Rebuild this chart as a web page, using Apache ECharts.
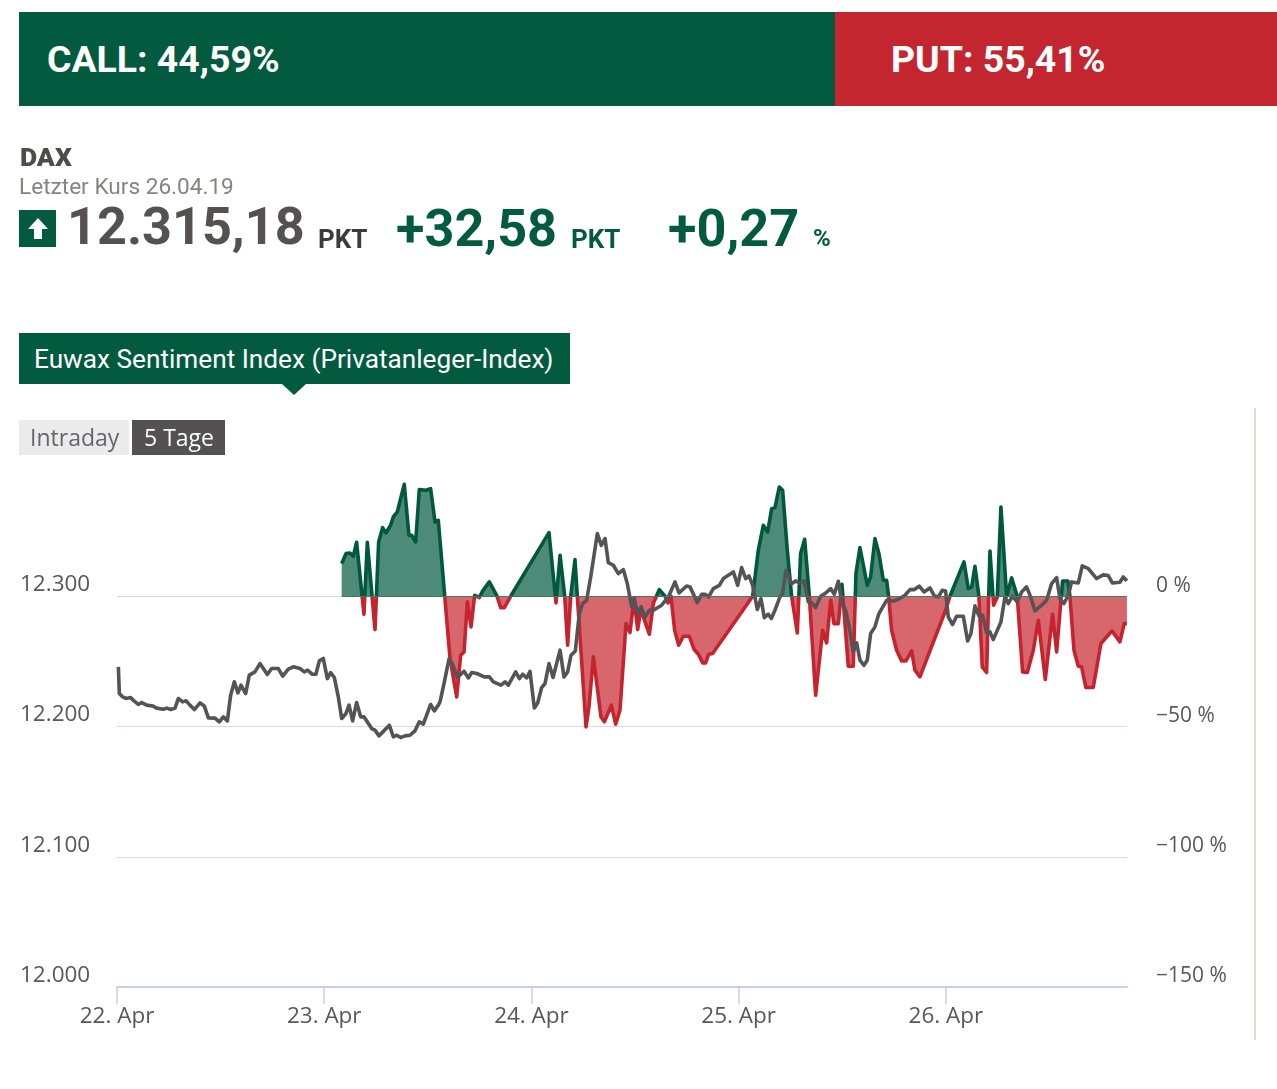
<!DOCTYPE html>
<html lang="de"><head><meta charset="utf-8"><title>DAX Euwax Sentiment</title>
<script src="https://cdn.jsdelivr.net/npm/echarts@6/dist/echarts.min.js"></script>
<style>
html,body{margin:0;padding:0;background:#fff;width:1277px;height:1089px;overflow:hidden}
#page{position:relative;width:1277px;height:1089px;font-family:Roboto,sans-serif}
#chart{position:absolute;left:0;top:0;width:1277px;height:1089px}
.a{position:absolute;white-space:nowrap;line-height:1}
</style></head><body>
<div id="page">
<div id="chart"></div>
<div class="a" style="left:19px;top:12px;width:816px;height:94px;background:#035b3f"></div>
<div class="a" style="left:835px;top:12px;width:442px;height:94px;background:#c4262f"></div>
<div class="a" style="left:47px;top:41px;font-size:37.4px;font-weight:700;color:#fff">CALL: 44,59%</div>
<div class="a" style="left:891px;top:41px;font-size:37.4px;font-weight:700;color:#fff">PUT: 55,41%</div>
<div class="a" style="left:20px;top:144px;font-size:26.5px;font-weight:900;color:#4d4d45">DAX</div>
<div class="a" style="left:19px;top:176px;font-size:22.6px;color:#85857f">Letzter Kurs 26.04.19</div>
<svg class="a" style="left:19px;top:210px" width="37" height="37"><rect width="37" height="37" fill="#035b3f"/><path d="M19 8 L29 19 L23 19 L23 29 L15 29 L15 19 L9 19 Z" fill="#fff"/></svg>
<div class="a" style="left:67px;top:201px;font-size:52.2px;font-weight:700;color:#555150">12.315,18</div>
<div class="a" style="left:318px;top:226px;font-size:26px;font-weight:700;color:#3d3a3a">PKT</div>
<div class="a" style="left:396px;top:203px;font-size:52.2px;font-weight:700;color:#035b3f">+32,58</div>
<div class="a" style="left:571px;top:226px;font-size:26px;font-weight:700;color:#035b3f">PKT</div>
<div class="a" style="left:668px;top:203px;font-size:52.2px;font-weight:700;color:#035b3f">+0,27</div>
<div class="a" style="left:813px;top:226px;font-size:24px;font-weight:700;color:#035b3f">%</div>
<div class="a" style="left:19px;top:333px;width:551px;height:51px;background:#035b3f"></div>
<svg class="a" style="left:282px;top:384px" width="24" height="11"><path d="M0 0 L24 0 L12 11 Z" fill="#035b3f"/></svg>
<div class="a" style="left:34px;top:346px;font-size:26.2px;color:#fff">Euwax Sentiment Index (Privatanleger-Index)</div>
<div class="a" style="left:19px;top:420px;width:110px;height:35px;background:#ebebed"></div>
<div class="a" style="left:132px;top:420px;width:93px;height:35px;background:#555152"></div>
<div class="a" style="left:30px;top:426px;font-family:'Open Sans';font-size:23px;color:#666">Intraday</div>
<div class="a" style="left:144px;top:426px;font-family:'Open Sans';font-size:23px;color:#fff">5 Tage</div>
<div class="a" style="left:1254px;top:408px;width:2px;height:632px;background:#dcdcd2"></div>
</div>
<script>
const dayLabels = ['22. Apr','23. Apr','24. Apr','25. Apr','26. Apr'];
const priceTicks = [12000,12100,12200,12300];
const percentTicks = [-150,-100,-50,0];

// hours since 22 Apr (axis start)
const sentimentHours = [26.02,26.52,26.98,27.37,27.75,28.60,28.99,29.88,30.30,30.76,31.15,31.69,32.00,32.46,33.27,33.81,34.12,34.59,35.01,35.78,36.32,36.83,37.21,38.57,39.34,39.80,40.19,40.58,41.00,41.42,41.96,42.35,43.12,43.97,44.44,44.86,45.59,50.03,50.84,51.31,51.85,52.19,52.54,53.04,53.31,54.32,54.66,55.17,56.05,56.44,57.25,57.75,58.25,58.95,59.41,59.88,60.30,60.72,61.03,61.65,62.11,62.81,63.47,63.81,64.16,64.58,65.05,65.59,66.28,66.82,67.33,67.83,68.17,68.52,68.98,73.62,74.27,74.85,75.35,75.82,76.20,76.70,77.09,77.63,78.13,78.79,79.17,79.64,80.18,80.91,81.72,82.18,82.65,83.03,83.54,83.96,84.69,85.27,85.58,86.04,86.89,87.28,87.78,88.24,88.75,89.13,89.36,89.71,90.29,90.87,91.37,92.03,92.41,92.99,95.96,96.47,98.09,98.59,98.98,99.36,99.82,100.21,100.71,101.10,101.52,101.95,102.37,103.03,103.61,104.26,104.88,105.42,106.12,106.70,107.51,108.35,108.82,109.51,110.13,110.36,110.83,111.33,111.71,112.21,113.06,113.95,115.23,116.15,116.65,116.96];
const sentimentValues = [12.53,16.37,16.62,15.35,20.72,-6.91,20.72,-12.79,20.84,26.34,24.30,27.24,30.44,32.35,42.97,23.40,23.40,20.84,40.92,40.67,41.31,28.52,29.16,-23.91,-38.62,-22.63,-21.36,-2.17,-11.76,0.38,-0.51,2.05,5.50,0.38,-4.35,-4.35,0,24.43,-2.56,15.73,0,-18.80,-0.26,14.07,0,-50.13,-42.46,-23.27,-46.29,-48.21,-41.82,-49.11,-43.73,-10.49,-13.94,-0.90,-12.79,-4.09,-8.57,-14.58,-2.81,2.56,0,-2.56,0,-13.04,-18.80,-15.35,-15.35,-20.33,-22.25,-25.58,-25.58,-22.25,-22.00,0,17.65,27.24,24.68,33.63,34.02,41.94,40.67,17.65,0,-14.07,16.37,21.87,0,-37.98,-13.04,-17.90,-1.53,-10.49,-10.49,4.60,-26.85,-26.85,8.70,18.67,4.22,7.42,22.12,16.37,6.14,6.14,0,-13.04,-20.72,-24.81,-24.81,-20.97,-28.39,-30.95,-5.37,0,13.17,2.94,3.58,11.51,0,-27.11,-29.28,17.39,-3.45,-0.26,34.27,0,7.03,0,-29.03,-29.28,-20.72,-9.21,-31.97,-6.91,-21.36,5.88,5.88,0,-20.72,-26.85,-27.11,-35.04,-35.04,-18.16,-13.30,-17.52,-10.49,-10.49];

const priceHours = [0.16,0.27,0.66,1.04,1.58,1.97,2.47,2.86,3.44,4.13,4.59,5.37,5.75,6.22,6.72,7.10,7.60,7.99,8.45,8.96,9.61,10.11,10.58,11.35,11.85,12.31,12.78,13.16,13.59,14.01,14.36,14.90,15.32,15.98,16.56,17.41,17.91,18.68,19.19,19.84,20.42,21.19,21.69,22.08,22.62,23.04,23.43,23.89,24.36,24.74,25.17,25.63,26.02,26.52,26.87,27.29,27.75,28.22,28.60,29.49,29.88,30.34,31.54,32.00,32.39,32.85,33.35,33.93,34.51,35.01,35.47,36.32,36.75,37.21,37.41,37.87,38.45,38.84,39.42,40.19,40.69,41.08,41.66,42.54,43.12,43.59,44.47,44.94,45.32,46.17,46.60,46.98,47.45,47.83,48.33,48.72,49.18,49.57,50.03,50.50,51.31,51.77,52.19,52.58,53.08,53.54,53.93,54.39,54.86,55.63,56.09,56.52,56.90,57.48,58.06,58.64,59.10,59.61,59.91,60.30,60.69,61.15,61.65,62.11,63.08,63.85,64.62,65.09,65.97,66.36,67.21,67.71,68.10,68.52,69.06,69.76,70.22,71.38,71.88,72.34,72.81,73.19,73.62,74.16,74.58,74.97,75.43,75.78,76.20,76.78,77.09,77.47,78.13,78.63,79.10,79.56,80.06,80.45,80.91,81.49,81.99,82.65,83.07,83.54,83.92,84.38,84.77,85.27,85.66,86.04,86.51,86.89,87.28,87.78,88.24,89.13,89.90,90.48,91.26,91.83,92.34,92.91,93.46,94.15,94.65,95.12,95.58,95.96,96.27,96.77,97.24,98.01,98.51,98.90,99.36,99.82,100.25,100.71,101.10,101.48,102.37,102.84,103.22,103.68,104.26,104.77,105.34,105.81,106.31,107.08,107.66,108.24,108.82,109.20,109.67,110.17,110.56,111.33,111.79,112.49,113.45,114.22,114.80,115.27,116.15,116.54,116.96];
const priceValues = [12245.8,12225.3,12222.7,12221.5,12222.2,12219.7,12216.9,12218.4,12216.4,12215.8,12214.1,12213.3,12214.1,12213,12214.1,12221.5,12218.9,12219.7,12216.4,12213,12218.1,12215.8,12206.6,12206.4,12203.6,12207.4,12204.3,12224,12234.3,12225.8,12231.7,12225.3,12239.4,12241.9,12248.3,12239.9,12244.5,12244.5,12238.6,12244,12245.8,12244.5,12241.9,12243.2,12240.1,12240.1,12250.4,12252.2,12236.8,12241.4,12237.6,12222.7,12206.1,12210,12216.4,12204.3,12218.4,12207.4,12207.4,12198.4,12197.2,12192.8,12201,12192.1,12193.3,12191.5,12192.8,12193.3,12196.7,12203.6,12201.8,12216.9,12212,12216.4,12218.9,12233,12251.7,12248.3,12237.6,12242.4,12237.3,12241.4,12240.7,12238.1,12238.1,12234.3,12231.7,12234.3,12231.7,12241.9,12236.8,12240.1,12237.3,12242.4,12214.3,12218.1,12229.9,12233,12248.3,12237.6,12258.6,12238.1,12241.9,12254.7,12258,12286.7,12294.4,12296.9,12314.8,12348.1,12339.1,12344.3,12325.8,12323.8,12317.4,12320.5,12309.7,12291.8,12298.2,12286.2,12291.8,12284.1,12289.3,12289.3,12293.1,12299.5,12311,12302.6,12307.9,12307.2,12295.1,12301.5,12301.5,12299.5,12305.9,12308.4,12313.6,12318.7,12308.4,12322,12313.6,12315.6,12308.4,12289.8,12298.2,12283.6,12286.2,12282.9,12289.3,12299.5,12302,12320,12309.7,12311.8,12309.7,12311.8,12295.7,12295.1,12291.3,12300,12302,12305.9,12301.5,12311.5,12295.7,12289.3,12277.7,12257.3,12264.2,12250.9,12247,12250.9,12271.4,12276.5,12286.7,12296.9,12296.2,12297.7,12300.8,12305.1,12305.1,12307.7,12303.3,12306.4,12300.3,12299.5,12304.6,12304.1,12284.1,12278.3,12284.7,12284.7,12265.7,12271.4,12292.6,12284.9,12285.4,12271.9,12272.6,12266.7,12280.3,12299.5,12294.4,12300,12295.7,12303.3,12307.2,12299.5,12288.7,12293.1,12296.9,12309.7,12314.3,12298.2,12294.4,12300.8,12311,12310.2,12323.3,12321.2,12313.6,12316.4,12315.9,12310.2,12310.7,12314.8,12311.8];

const GREEN = '#00593d', RED = '#c5242e', GREY = '#555355';
const zip = (a, b) => a.map((x, i) => [x, b[i]]);

const chart = echarts.init(document.getElementById('chart'), null, {renderer: 'canvas'});
chart.setOption({
  animation: false,
  grid: {left: 117, right: 150, top: 466, bottom: 102},
  xAxis: {
    type: 'value', min: 0, max: 116.97, interval: 24,
    splitLine: {show: false},
    axisLine: {show: true, onZero: false, lineStyle: {color: '#c6d0ea', width: 2}},
    axisTick: {show: true, length: 17, lineStyle: {color: '#c6d0ea', width: 1.5}},
    axisLabel: {
      margin: 18, showMaxLabel: false, color: '#5c5656', fontFamily: 'Open Sans', fontSize: 22.5,
      formatter: v => dayLabels[v / 24] || ''
    }
  },
  yAxis: [{
    type: 'value', position: 'left', min: 12000, max: 12400, interval: 100,
    axisLine: {show: false}, axisTick: {show: false},
    splitLine: {show: true, showMinLine: false, showMaxLine: false,
      lineStyle: {color: ['#d5d8e8','#e3d5ec','#d3d8e6','#cfd8cf','#ffffff'], width: 1}},
    axisLabel: {
      align: 'left', verticalAlign: 'bottom', margin: 97, color: '#5c5656',
      fontFamily: 'Open Sans', fontSize: 22.5,
      formatter: v => priceTicks.includes(v) ? String(v).replace(/(\d{3})$/, '.$1') : ''
    }
  }, {
    type: 'value', position: 'right', min: -150, max: 50, interval: 50,
    axisLine: {show: false}, axisTick: {show: false}, splitLine: {show: false},
    axisLabel: {
      align: 'left', verticalAlign: 'bottom', margin: 29, color: '#5c5656',
      fontFamily: 'Open Sans', fontSize: 21,
      formatter: v => percentTicks.includes(v) ? String(v).replace('-', '\u2212') + ' %' : ''
    }
  }],
  visualMap: {
    show: false, type: 'piecewise', seriesIndex: 0, dimension: 1,
    pieces: [{gt: 0, lte: 100, color: GREEN}, {gt: -150, lte: 0, color: RED}]
  },
  series: [{
    name: 'Sentiment', type: 'line', yAxisIndex: 1, showSymbol: false, symbol: 'none',
    data: zip(sentimentHours, sentimentValues),
    lineStyle: {width: 3.6, join: 'round'},
    areaStyle: {opacity: 0.7, origin: 0},
    markLine: {
      silent: true, symbol: 'none', label: {show: false},
      lineStyle: {color: '#3f7a64', width: 1, type: 'solid'},
      data: [[{coord: [sentimentHours[0], 0]}, {coord: [116.97, 0]}]]
    },
    z: 2
  }, {
    name: 'DAX', type: 'line', yAxisIndex: 0, showSymbol: false, symbol: 'none',
    data: zip(priceHours, priceValues),
    lineStyle: {width: 3.6, color: GREY, join: 'round'},
    z: 3
  }]
});
</script>
</body></html>
